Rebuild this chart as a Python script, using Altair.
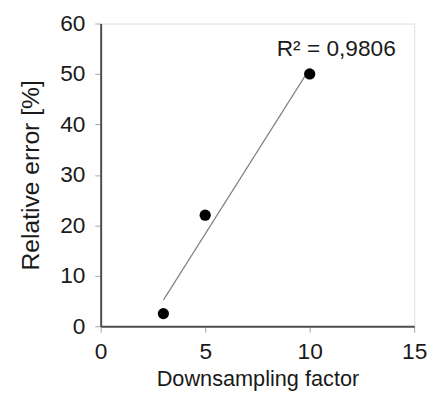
import altair as alt
import pandas as pd

factor = [3, 5, 10]
rel_error = [2.5, 22, 50]
x_ticks = [0, 5, 10, 15]
y_ticks = [0, 10, 20, 30, 40, 50, 60]
annot_text = ["R² = 0,9806"]
annot_x = [11.27]
annot_y = [55.0]

df = pd.DataFrame({"factor": factor, "err": rel_error})
ann = pd.DataFrame({"t": annot_text, "x": annot_x, "y": annot_y})

FONT = "Liberation Sans"

xs = alt.Scale(domain=[0, 15], nice=False, zero=False)
ys = alt.Scale(domain=[0, 60], nice=False, zero=False)

xax = alt.Axis(values=x_ticks, title="Downsampling factor", grid=False,
               labelFontSize=23, titleFontSize=22, labelFont=FONT, titleFont=FONT,
               labelColor="#1a1a1a", titleColor="#1a1a1a", titleFontWeight="normal",
               domainColor="#4d4d4d", domainWidth=2, tickColor="#a6a6a6", tickSize=6,
               labelPadding=9, titlePadding=5, labelFlush=False)
yax = alt.Axis(values=y_ticks, title="Relative error [%]", grid=False,
               labelFontSize=23, titleFontSize=25, labelFont=FONT, titleFont=FONT,
               labelColor="#1a1a1a", titleColor="#1a1a1a", titleFontWeight="normal",
               domainColor="#4d4d4d", domainWidth=2, tickColor="#a6a6a6", tickSize=6,
               labelPadding=10, titlePadding=16, labelFlush=False)

trend = alt.Chart(df).transform_regression("factor", "err").mark_line(
    color="#808080", strokeWidth=1.2
).encode(x=alt.X("factor:Q", scale=xs, axis=xax), y=alt.Y("err:Q", scale=ys, axis=yax))

pts = alt.Chart(df).mark_circle(color="black", opacity=1, size=130).encode(
    x=alt.X("factor:Q", scale=xs), y=alt.Y("err:Q", scale=ys)
)

txt = alt.Chart(ann).mark_text(font=FONT, fontSize=23, color="#1a1a1a",
                               align="center", baseline="middle").encode(
    x=alt.X("x:Q", scale=xs), y=alt.Y("y:Q", scale=ys), text="t:N"
)

chart = alt.layer(trend, pts, txt).properties(
    width=318, height=307,
    autosize=alt.AutoSizeParams(type="none"),
    padding={"left": 94, "top": 13, "right": 14, "bottom": 67},
).configure_view(stroke="black", strokeWidth=2).configure(background="white")

chart.save("out.html", embed_options={"renderer": "svg", "actions": False})
